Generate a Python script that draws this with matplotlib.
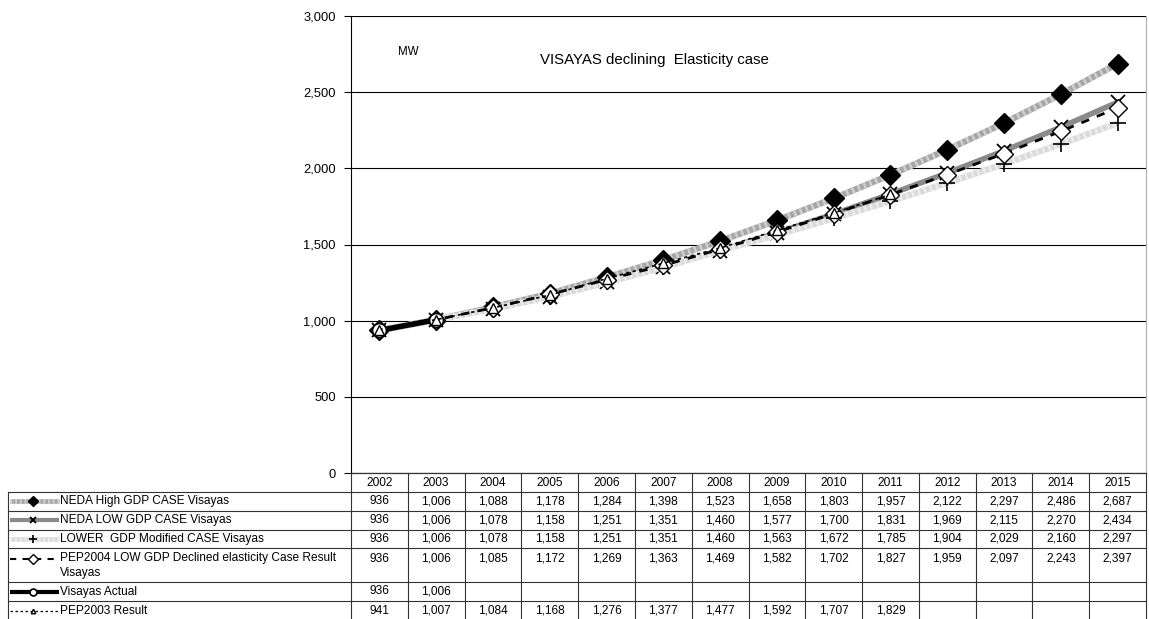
import matplotlib
matplotlib.use("Agg")
import matplotlib.pyplot as plt
import numpy as np

plt.rcParams['font.family'] = ['Liberation Sans', 'DejaVu Sans']

years = ["2002", "2003", "2004", "2005", "2006", "2007", "2008",
         "2009", "2010", "2011", "2012", "2013", "2014", "2015"]
neda_high = [936, 1006, 1088, 1178, 1284, 1398, 1523, 1658, 1803, 1957, 2122, 2297, 2486, 2687]
neda_low = [936, 1006, 1078, 1158, 1251, 1351, 1460, 1577, 1700, 1831, 1969, 2115, 2270, 2434]
lower_gdp = [936, 1006, 1078, 1158, 1251, 1351, 1460, 1563, 1672, 1785, 1904, 2029, 2160, 2297]
pep2004 = [936, 1006, 1085, 1172, 1269, 1363, 1469, 1582, 1702, 1827, 1959, 2097, 2243, 2397]
actual = [936, 1006]
pep2003 = [941, 1007, 1084, 1168, 1276, 1377, 1477, 1592, 1707, 1829]

names = ["NEDA High GDP CASE Visayas",
         "NEDA LOW GDP CASE Visayas",
         "LOWER  GDP Modified CASE Visayas",
         "PEP2004 LOW GDP Declined elasticity Case Result\nVisayas",
         "Visayas Actual",
         "PEP2003 Result"]
series = [neda_high, neda_low, lower_gdp, pep2004, actual, pep2003]

W, H = 1149, 619
fig = plt.figure(figsize=(W / 100, H / 100), dpi=100)

# pixel layout
ax_l, ax_r, ax_t, ax_b = 351, 1146, 16, 473
ax = fig.add_axes([ax_l / W, 1 - ax_b / H, (ax_r - ax_l) / W, (ax_b - ax_t) / H])

x = np.arange(len(years))

styles = [
    dict(lines=[dict(color='#a6a6a6', lw=4.5), dict(color='#d0d0d0', lw=4.5, ls=(0, (0.4, 0.6)))],
         mk=dict(marker='D', ms=10.5, mfc='black', mec='black')),
    dict(lines=[dict(color='#8a8a8a', lw=4)],
         mk=dict(marker='x', ms=10, mec='black', mew=1.3)),
    dict(lines=[dict(color='#dadada', lw=4.5), dict(color='#ececec', lw=4.5, ls=(0, (0.4, 0.6)))],
         mk=dict(marker='+', ms=12, mec='black', mew=1.2)),
    dict(lines=[dict(color='black', lw=2, ls=(0, (3, 3)))],
         mk=dict(marker='D', ms=9.5, mfc='white', mec='black', mew=1.0)),
    dict(lines=[dict(color='black', lw=4)],
         mk=dict(marker='o', ms=10, mfc='white', mec='black', mew=1.2)),
    dict(lines=[dict(color='black', lw=1.2, ls=(0, (2, 2)))],
         mk=dict(marker='^', ms=6.5, mfc='white', mec='black', mew=1.0)),
]

for i, (s, st) in enumerate(zip(series, styles)):
    z = 3 + i
    for kw in st['lines']:
        ax.plot(x[:len(s)], s, zorder=z, solid_capstyle='butt', **kw)
    ax.plot(x[:len(s)], s, linestyle='none', zorder=z + 0.5, **st['mk'])

ax.set_xlim(-0.5, len(years) - 0.5)
ax.set_ylim(0, 3000)
ax.set_yticks(np.arange(0, 3001, 500))
ax.set_yticklabels([f"{v:,}" for v in range(0, 3001, 500)], fontsize=9.3)
ax.set_xticks([])
ax.yaxis.grid(True, color='black', lw=0.8)
ax.set_axisbelow(True)
ax.tick_params(axis='y', length=5, width=0.8, pad=6)
ax.spines['top'].set_visible(False)
ax.spines['right'].set_color('#b0b0b0')
ax.spines['left'].set_color('black')
ax.spines['bottom'].set_color('black')

ax.text((398 - ax_l) / (ax_r - ax_l), 1 - (52 - ax_t) / (ax_b - ax_t), "MW", transform=ax.transAxes,
        fontsize=8.3, ha='left', va='center')
ax.text((654 - ax_l) / (ax_r - ax_l), 1 - (60 - ax_t) / (ax_b - ax_t),
        "VISAYAS declining  Elasticity case", transform=ax.transAxes,
        fontsize=10.8, ha='center', va='center')

# table overlay
tb = fig.add_axes([0, 0, 1, 1])
tb.set_xlim(0, W)
tb.set_ylim(H, 0)
tb.axis('off')
tb.patch.set_alpha(0)

col_w = (ax_r - ax_l) / len(years)
row_y = [473, 491.7, 510.7, 529.5, 548.3, 582, 601, 620]
left_x = 8
lc = '#333333'
fs = 8.6

for j, yy in enumerate(row_y[:-1]):
    x0 = ax_l if j == 0 else left_x
    tb.plot([x0, ax_r], [yy, yy], color=lc, lw=0.8)
for k in range(len(years) + 1):
    xx = ax_l + k * col_w
    tb.plot([xx, xx], [row_y[0], H], color=lc, lw=0.8)
tb.plot([left_x, left_x], [row_y[1], H], color=lc, lw=0.8)

for k, yr in enumerate(years):
    tb.text(ax_l + (k + 0.5) * col_w, (row_y[0] + row_y[1]) / 2 + 0.5, yr,
            fontsize=fs, ha='center', va='center')

for r, (nm, s, st) in enumerate(zip(names, series, styles)):
    y0, y1 = row_y[r + 1], row_y[r + 2]
    if r == 3:
        yc = y0 + 10.5
        tb.text(60, y0 + 4, nm, fontsize=fs, ha='left', va='top', linespacing=1.25)
    else:
        yc = (y0 + y1) / 2
        tb.text(60, yc, nm, fontsize=fs, ha='left', va='center')
    for kw in st['lines']:
        kk = dict(kw)
        kk['lw'] = kw['lw'] * 0.75
        tb.plot([10, 59], [yc, yc], solid_capstyle='butt', **kk)
    tb.plot([33], [yc], linestyle='none',
            **{**st['mk'], 'ms': st['mk']['ms'] * 0.5})
    for k, v in enumerate(s):
        tb.text(ax_l + (k + 0.5) * col_w, yc, f"{v:,}", fontsize=fs,
                ha='center', va='center')

fig.savefig("out.png", dpi=100)
